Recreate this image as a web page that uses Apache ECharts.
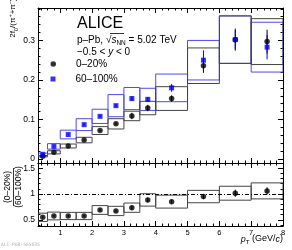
<!DOCTYPE html>
<html><head><meta charset="utf-8">
<script src="https://cdn.jsdelivr.net/npm/echarts@6/dist/echarts.min.js"></script>
<style>html,body{margin:0;padding:0;background:#fff}#c{width:292px;height:250px}</style>
</head><body><div id="c"></div>
<script>
// ---- data ----
const ptLow  = [0.3,0.6,1.0,1.5,2.0,2.5,3.0,3.5,4,5,6,7];
const ptHigh = [0.6,1.0,1.5,2.0,2.5,3.0,3.5,4.0,5,6,7,8];
const val020   = [0.007,0.017,0.033,0.048,0.072,0.089,0.109,0.129,0.153,0.236,0.302,0.297];
const stat020  = [0.001,0.001,0.0015,0.002,0.002,0.003,0.008,0.008,0.008,0.018,0.025,0.030];
const sys020   = [0.0015,0.004,0.005,0.007,0.010,0.013,0.012,0.017,0.030,0.045,0.060,0.058];
const val60100  = [0.012,0.032,0.062,0.087,0.108,0.135,0.153,0.151,0.180,0.250,0.302,0.283];
const stat60100 = [0.001,0.002,0.002,0.003,0.003,0.004,0.006,0.006,0.010,0.025,0.028,0.031];
const sys60100  = [0.003,0.007,0.011,0.015,0.018,0.028,0.028,0.028,0.035,0.050,0.060,0.063];
const ratioVal  = [0.549,0.574,0.574,0.574,0.690,0.671,0.735,0.885,0.852,0.950,1.015,1.060];
const ratioStat = [0.02,0.02,0.02,0.02,0.025,0.025,0.04,0.045,0.04,0.05,0.07,0.07];
const ratioSys  = [0.08,0.075,0.07,0.07,0.085,0.09,0.09,0.12,0.125,0.12,0.135,0.155];
const xMajor    = [1,2,3,4,5,6,7,8];
const yMajorTop = [0,0.1,0.2,0.3];
const yMajorBot = [0.5,1,1.5];
const names = ['0–20%','60–100%'];

// ---- helpers ----
function minors(lo, hi, step, majors){
  const out=[]; const n=Math.round((hi-lo)/step);
  for(let i=0;i<=n;i++){const v=+(lo+i*step).toFixed(4); if(!majors.some(m=>Math.abs(m-v)<1e-6)) out.push(v);}
  return out;
}
const xMinor = minors(0.4,7.8,0.2,xMajor);
const yMinorTop = minors(0,0.38,0.02,yMajorTop);
const yMinorBot = minors(0.4,1.6,0.1,yMajorBot);
const FF = '"Liberation Sans", Arial, sans-serif';
function xAx(grid,pos,vals,len,line,labels){
  return {type:'value',gridIndex:grid,position:pos,min:0.3,max:8,
    axisLine:{show:line,onZero:false,lineStyle:{color:'#000',width:1}},
    axisTick:{show:true,inside:true,length:len,customValues:vals,lineStyle:{color:'#000',width:1}},
    axisLabel:{show:!!labels,customValues:vals,margin:3,color:'#000',fontSize:7.5,fontFamily:FF},
    splitLine:{show:false}};
}
function yAx(grid,pos,min,max,vals,len,line,labels){
  return {type:'value',gridIndex:grid,position:pos,min:min,max:max,
    axisLine:{show:line,onZero:false,lineStyle:{color:'#000',width:1}},
    axisTick:{show:true,inside:true,length:len,customValues:vals,lineStyle:{color:'#000',width:1}},
    axisLabel:{show:!!labels,customValues:vals,margin:3,color:'#000',fontSize:8.5,fontFamily:FF},
    splitLine:{show:false}};
}
function boxData(v,s){return v.map((y,i)=>[ptLow[i],ptHigh[i],y-s[i],y+s[i]]);}
function errData(v,e){return v.map((y,i)=>[(ptLow[i]+ptHigh[i])/2,y-e[i],y+e[i]]);}
function ptData(v){return v.map((y,i)=>[(ptLow[i]+ptHigh[i])/2,y]);}
function boxItem(color){return function(p,api){
  const a=api.coord([api.value(0),api.value(3)]), b=api.coord([api.value(1),api.value(2)]);
  return {type:'rect',shape:{x:a[0],y:a[1],width:b[0]-a[0],height:b[1]-a[1]},style:{fill:'none',stroke:color,lineWidth:1}};
};}
function errItem(color){return function(p,api){
  const a=api.coord([api.value(0),api.value(1)]), b=api.coord([api.value(0),api.value(2)]);
  return {type:'line',shape:{x1:a[0],y1:a[1],x2:b[0],y2:b[1]},style:{stroke:color,lineWidth:1}};
};}
function custom(name,xi,yi,data,fn){
  return {type:'custom',name:name,xAxisIndex:xi,yAxisIndex:yi,data:data,renderItem:fn,clip:true,silent:true,
    encode:{x:[0,1],y:[2,3]},z:2};
}
const legTxt = {fontSize:10,lineHeight:12,fontFamily:FF,color:'#000',padding:[0,0,0,15]};

const option = {
  animation:false,
  backgroundColor:'#fff',
  grid:[{left:38,top:8,width:245,height:155},{left:38,top:163,width:245,height:63}],
  xAxis:[
    xAx(0,'bottom',xMajor,5,true,false), xAx(0,'bottom',xMinor,2.5,false,false),
    xAx(0,'top',xMajor,5,true,false),    xAx(0,'top',xMinor,2.5,false,false),
    xAx(1,'bottom',xMajor,5,true,true),  xAx(1,'bottom',xMinor,2.5,false,false),
    xAx(1,'top',xMajor,5,true,false),    xAx(1,'top',xMinor,2.5,false,false)
  ],
  yAxis:[
    yAx(0,'left',-0.01,0.382,yMajorTop,5,true,true),  yAx(0,'left',-0.01,0.382,yMinorTop,2.5,false,false),
    yAx(0,'right',-0.01,0.382,yMajorTop,5,true,false),yAx(0,'right',-0.01,0.382,yMinorTop,2.5,false,false),
    yAx(1,'left',0.38,1.6,yMajorBot,5,true,true),     yAx(1,'left',0.38,1.6,yMinorBot,2.5,false,false),
    yAx(1,'right',0.38,1.6,yMajorBot,5,true,false),   yAx(1,'right',0.38,1.6,yMinorBot,2.5,false,false)
  ],
  legend:[
    {data:[{name:names[0],icon:'circle'}],left:50.5,top:58,itemWidth:5.5,itemHeight:5.5,itemGap:0,padding:0,
     selectedMode:false,symbolKeepAspect:true,textStyle:legTxt},
    {data:[{name:names[1],icon:'rect'}],left:50.5,top:73,itemWidth:5,itemHeight:5,itemGap:0,padding:0,
     selectedMode:false,symbolKeepAspect:true,textStyle:legTxt}
  ],
  series:[
    custom('sysB',0,0,boxData(val60100,sys60100),boxItem('#4b4bf0')),
    custom('sysK',0,0,boxData(val020,sys020),boxItem('#444444')),
    custom('errK',0,0,errData(val020,stat020),errItem('#000000')),
    {type:'scatter',name:names[0],xAxisIndex:0,yAxisIndex:0,data:ptData(val020),symbol:'circle',symbolSize:5.5,
     itemStyle:{color:'#000'},z:3,silent:true},
    custom('errB',0,0,errData(val60100,stat60100),errItem('#0000ff')),
    {type:'scatter',name:names[1],xAxisIndex:0,yAxisIndex:0,data:ptData(val60100),symbol:'rect',symbolSize:5,
     itemStyle:{color:'#0000ff'},z:4,silent:true},
    custom('sysR',4,4,boxData(ratioVal,ratioSys),boxItem('#444444')),
    custom('errR',4,4,errData(ratioVal,ratioStat),errItem('#000000')),
    {type:'scatter',name:'ratio',xAxisIndex:4,yAxisIndex:4,data:ptData(ratioVal),symbol:'circle',symbolSize:5.5,
     itemStyle:{color:'#000'},z:3,silent:true,
     markLine:{silent:true,symbol:'none',label:{show:false},
       lineStyle:{color:'#000',width:1,type:[4,2,1,2]},data:[{yAxis:1}]}}
  ],
  graphic:[
    {type:'text',x:77,y:24,style:{text:'ALICE',font:'16px '+FF,fill:'#000',verticalAlign:'middle'}},
    {type:'text',x:77,y:40,style:{text:'{a|p–Pb, √}{i|s}{s|NN}{a| = 5.02 TeV}',verticalAlign:'middle',
      rich:{a:{fontSize:10,fontFamily:FF,lineHeight:14,fill:'#000'},
            i:{fontSize:10,fontFamily:FF,fontStyle:'italic',lineHeight:14,fill:'#000'},
            s:{fontSize:6.5,fontFamily:FF,verticalAlign:'bottom',lineHeight:8,fill:'#000'}}}},
    {type:'line',shape:{x1:110,y1:33.5,x2:124,y2:33.5},style:{stroke:'#000',lineWidth:0.8}},
    {type:'text',x:77,y:52.5,style:{text:'{a|−0.5 < }{i|y}{a| < 0}',verticalAlign:'middle',
      rich:{a:{fontSize:10,fontFamily:FF,fill:'#000'},i:{fontSize:10,fontFamily:FF,fontStyle:'italic',fill:'#000'}}}},
    {type:'text',x:13,y:18,rotation:Math.PI/2,style:{text:'{a|2f}{s|0}{a|/(π}{p|+}{a|+π}{p|−}{a|)}',
      align:'center',verticalAlign:'middle',
      rich:{a:{fontSize:8,fontFamily:FF,lineHeight:12,fill:'#000'},
            s:{fontSize:5.5,fontFamily:FF,verticalAlign:'bottom',lineHeight:7,fill:'#000'},
            p:{fontSize:5.5,fontFamily:FF,verticalAlign:'top',lineHeight:7,fill:'#000'}}}},
    {type:'text',x:8,y:187,rotation:Math.PI/2,style:{text:'(0–20%)',font:'8.5px '+FF,fill:'#000',align:'center',verticalAlign:'middle'}},
    {type:'line',shape:{x1:13.5,y1:168,x2:13.5,y2:206},style:{stroke:'#000',lineWidth:0.8}},
    {type:'text',x:19,y:187,rotation:Math.PI/2,style:{text:'(60–100%)',font:'8.5px '+FF,fill:'#000',align:'center',verticalAlign:'middle'}},
    {type:'text',x:283,y:239,style:{text:'{i|p}{s|T}{a| (GeV/}{i|c}{a|)}',align:'right',verticalAlign:'middle',
      rich:{a:{fontSize:9,fontFamily:FF,lineHeight:13,fill:'#000'},
            i:{fontSize:9,fontFamily:FF,fontStyle:'italic',lineHeight:13,fill:'#000'},
            s:{fontSize:6,fontFamily:FF,verticalAlign:'bottom',lineHeight:8,fill:'#000'}}}},
    {type:'text',x:1,y:245,style:{text:'ALI-PUB-565635',font:'4.6px "DejaVu Sans Mono", monospace',fill:'#b0b0b0',verticalAlign:'middle'}}
  ]
};
const chart = echarts.init(document.getElementById('c'));
chart.setOption(option);
</script></body></html>
